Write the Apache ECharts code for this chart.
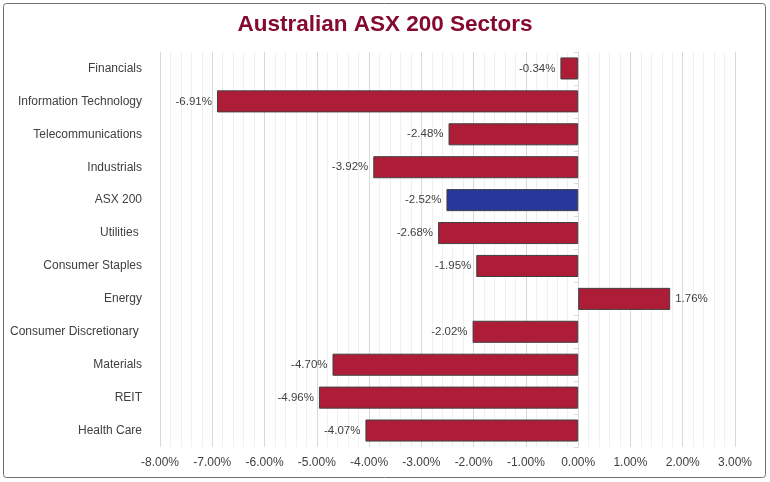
<!DOCTYPE html>
<html>
<head>
<meta charset="utf-8">
<title>Australian ASX 200 Sectors</title>
<script src="https://cdn.jsdelivr.net/npm/echarts@6/dist/echarts.min.js"></script>
<style>
    html, body { margin: 0; padding: 0; background: #fff; }
    #chart { width: 770px; height: 482px; }
</style>
</head>
<body>
<div id="chart"></div>
<script>
    var sectors = ['Financials', 'Information Technology', 'Telecommunications', 'Industrials',
        'ASX 200', 'Utilities ', 'Consumer Staples', 'Energy', 'Consumer Discretionary ',
        'Materials', 'REIT', 'Health Care'];
    var returns = [-0.34, -6.91, -2.48, -3.92, -2.52, -2.68, -1.95, 1.76, -2.02, -4.70, -4.96, -4.07];
    var highlight = 'ASX 200';

    var chart = echarts.init(document.getElementById('chart'));
    var font = '"Liberation Sans", Arial, sans-serif';

    var barData = sectors.map(function (name, i) {
        var v = returns[i];
        return {
            value: v,
            itemStyle: { color: name === highlight ? '#27389a' : '#ad1d37' },
            label: { position: v < 0 ? 'left' : 'right' }
        };
    });

    var option = {
        animation: false,
        textStyle: { fontFamily: font },
        title: {
            text: 'Australian ASX 200 Sectors',
            left: 'center',
            top: 8,
            textStyle: { color: '#860a30', fontSize: 22.5, fontWeight: 'bold', fontFamily: font }
        },
        graphic: [{
            type: 'rect',
            shape: { x: 3.5, y: 3.5, width: 762, height: 474, r: 3 },
            style: { fill: 'none', stroke: '#6e6e6e', lineWidth: 1 },
            silent: true
        }],
        grid: { left: 160, right: 35, top: 52, bottom: 35 },
        xAxis: {
            type: 'value',
            min: -8,
            max: 3,
            interval: 1,
            axisLine: { show: false },
            axisTick: { show: false },
            axisLabel: {
                color: '#404040',
                fontSize: 12,
                margin: 10,
                formatter: function (v) { return v.toFixed(2) + '%'; }
            },
            splitLine: { lineStyle: { color: '#d9d9d9' } },
            minorTick: { show: false, splitNumber: 5 },
            minorSplitLine: { show: true, lineStyle: { color: '#f0f0f0' } }
        },
        yAxis: [{
            type: 'category',
            inverse: true,
            data: sectors,
            axisLine: { show: false, onZero: false },
            axisTick: { show: false },
            axisLabel: { color: '#404040', fontSize: 12, margin: 18 }
        }, {
            type: 'category',
            inverse: true,
            data: sectors,
            position: 'left',
            axisLine: { show: true, onZero: true, lineStyle: { color: '#d9d9d9' } },
            axisTick: { show: true, length: 4, lineStyle: { color: '#d9d9d9' } },
            axisLabel: { show: false }
        }],
        series: [{
            type: 'bar',
            yAxisIndex: 0,
            data: barData,
            barCategoryGap: '33%',
            itemStyle: { borderColor: '#404040', borderWidth: 1 },
            label: {
                show: true,
                color: '#404040',
                fontSize: 11.5,
                distance: 5,
                formatter: function (p) { return p.value.toFixed(2) + '%'; }
            }
        }]
    };

    chart.setOption(option);
</script>
</body>
</html>
